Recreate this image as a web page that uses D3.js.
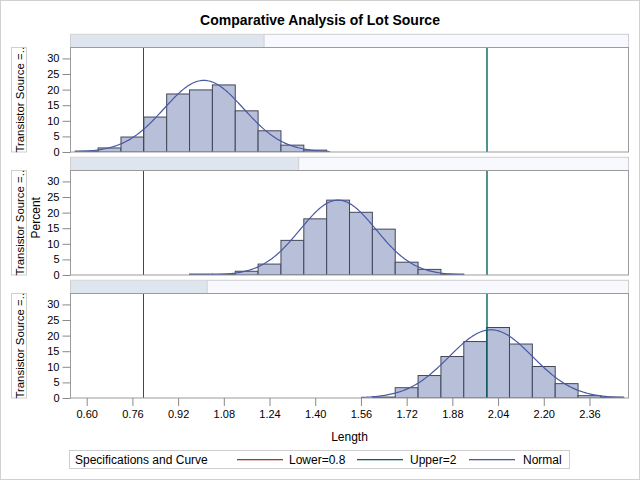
<!DOCTYPE html>
<html><head><meta charset="utf-8">
<script src="https://cdn.jsdelivr.net/npm/d3@7"></script>
<style>body{margin:0;background:#fff}svg{display:block;font-family:"Liberation Sans",Arial,sans-serif}</style>
</head><body><svg id="c" width="640" height="480"></svg>
<script>
// ---- data ----
const title = "Comparative Analysis of Lot Source";
const rowLabel = "Transistor Source =..";
const binWidth = 0.08;
const binStart = [0.56, 0.96, 1.60];
const lot1 = [0.3, 1.3, 4.8, 11.2, 18.6, 19.9, 21.5, 13.2, 6.8, 2.2, 0.6];
const lot2 = [0.3, 0.3, 1.2, 3.5, 11.1, 18.0, 24.0, 20.1, 14.7, 4.1, 1.8, 0.3];
const lot3 = [0.3, 3.3, 7.2, 13.3, 18.1, 22.6, 17.3, 10.1, 4.6, 0.75, 0.3];
const normMean = [1.01, 1.48, 2.015];
const normSd = [0.139, 0.133, 0.146];
const curveFrom = [0.56, 0.96, 1.56];
const curveTo = [1.452, 1.92, 2.48];
const stripShade = [0.346, 0.408, 0.244];
const lowerSpec = 0.8, upperSpec = 2;
const xTicks = [0.60, 0.76, 0.92, 1.08, 1.24, 1.40, 1.56, 1.72, 1.88, 2.04, 2.20, 2.36];
const yTicks = [0, 5, 10, 15, 20, 25, 30];
const legendItems = ["Lower=0.8", "Upper=2", "Normal"];
const lots = [lot1, lot2, lot3];

// ---- layout ----
const svg = d3.select("#c");
const L = 70.5, R = 628.5;
const x = d3.scaleLinear().domain([0.5433, 2.4966]).range([L, R]);
const plotTop = [47.5, 170.5, 293.5], plotH = 104.5, stripH = 13.2;
const cBar = "#b8bfd9", cBarLine = "#41465a", cCurve = "#4a5aa3",
      cLower = "#a23a2e", cUpper = "#01665e", cFrame = "#9b9b9b";

svg.append("rect").attr("x",0.5).attr("y",0.5).attr("width",639).attr("height",479)
  .attr("fill","#fff").attr("stroke","#d0d0d0");

svg.append("text").attr("x",320).attr("y",25).attr("text-anchor","middle")
  .attr("font-size",14).attr("font-weight","bold").attr("fill","#000").text(title);

lots.forEach((vals, p) => {
  const top = plotTop[p], bot = top + plotH;
  const y = d3.scaleLinear().domain([0, 33.5]).range([bot, top]);
  const g = svg.append("g");
  // strip
  const sTop = top - stripH;
  g.append("rect").attr("x",L).attr("y",sTop).attr("width",R-L).attr("height",stripH)
    .attr("fill","#f8f9fe").attr("stroke","#cfcfcf");
  g.append("rect").attr("x",L+0.5).attr("y",sTop+0.5).attr("width",(R-L)*stripShade[p]).attr("height",stripH-1)
    .attr("fill","#dfe5ef");
  g.append("line").attr("x1",L+(R-L)*stripShade[p]+0.5).attr("x2",L+(R-L)*stripShade[p]+0.5)
    .attr("y1",sTop).attr("y2",top).attr("stroke","#cfcfcf");
  // clip
  const cid = "clip"+p;
  svg.append("clipPath").attr("id",cid).append("rect").attr("x",L).attr("y",top).attr("width",R-L).attr("height",plotH);
  const pg = g.append("g").attr("clip-path","url(#"+cid+")");
  // bars
  pg.selectAll("rect.bar").data(vals).join("rect").attr("class","bar")
    .attr("x", (d,i) => x(binStart[p] + i*binWidth))
    .attr("width", (d,i) => x(binStart[p] + (i+1)*binWidth) - x(binStart[p] + i*binWidth))
    .attr("y", d => y(d)).attr("height", d => bot - y(d))
    .attr("fill", cBar).attr("stroke", cBarLine).attr("stroke-width",1);
  // normal curve
  const mu = normMean[p], sd = normSd[p];
  const pts = d3.range(curveFrom[p], curveTo[p] + 1e-9, 0.004).map(v =>
    [v, 100*binWidth/(sd*Math.sqrt(2*Math.PI))*Math.exp(-0.5*((v-mu)/sd)**2)]);
  pg.append("path").attr("d", d3.line().x(d=>x(d[0])).y(d=>y(d[1]))(pts))
    .attr("fill","none").attr("stroke",cCurve).attr("stroke-width",1.2);
  // spec lines
  pg.append("line").attr("x1",Math.round(x(lowerSpec))-0.5).attr("x2",Math.round(x(lowerSpec))-0.5)
    .attr("y1",top).attr("y2",bot).attr("stroke","#8e2b20").attr("stroke-width",1);
  pg.append("line").attr("x1",Math.round(x(upperSpec))).attr("x2",Math.round(x(upperSpec)))
    .attr("y1",top).attr("y2",bot).attr("stroke",cUpper).attr("stroke-width",1.4);
  // frame
  g.append("rect").attr("x",L).attr("y",top).attr("width",R-L).attr("height",plotH)
    .attr("fill","none").attr("stroke",cFrame);
  // y axis
  const ya = g.append("g").attr("transform",`translate(${L},0)`)
    .call(d3.axisLeft(y).tickValues(yTicks).tickSize(8).tickPadding(3).tickFormat(d3.format("d")));
  ya.select(".domain").remove();
  ya.selectAll("line").attr("stroke","#8a8a8a");
  ya.selectAll("text").attr("font-size",11).attr("fill","#000").attr("font-family","Liberation Sans, Arial, sans-serif");
  // row label box
  g.append("rect").attr("x",11.5).attr("y",top).attr("width",15).attr("height",plotH)
    .attr("fill","#fff").attr("stroke","#cfcfcf");
  g.append("text").attr("transform",`translate(23.5,${top+plotH/2}) rotate(-90)`)
    .attr("text-anchor","middle").attr("font-size",11.4).attr("fill","#000").text(rowLabel);
  if (p === 1) {
    g.append("text").attr("transform",`translate(40,${top+plotH/2-5}) rotate(-90)`)
      .attr("text-anchor","middle").attr("font-size",12).attr("fill","#000").text("Percent");
  }
  if (p === 2) {
    const xa = g.append("g").attr("transform",`translate(0,${bot})`)
      .call(d3.axisBottom(x).tickValues(xTicks).tickSize(8).tickPadding(4).tickFormat(d3.format(".2f")));
    xa.select(".domain").remove();
    xa.selectAll("line").attr("stroke","#8a8a8a");
    xa.selectAll("text").attr("font-size",11).attr("fill","#000").attr("font-family","Liberation Sans, Arial, sans-serif");
  }
});

svg.append("text").attr("x",(L+R)/2).attr("y",441).attr("text-anchor","middle")
  .attr("font-size",12).attr("fill","#000").text("Length");

// legend
const lg = svg.append("g");
lg.append("rect").attr("x",69.5).attr("y",450.5).attr("width",500).attr("height",18)
  .attr("fill","#fff").attr("stroke","#cfcfcf");
lg.append("text").attr("x",75).attr("y",464).attr("font-size",12).attr("fill","#000").text("Specifications and Curve");
const legCols = [cLower, cUpper, cCurve];
const legLineX = [237, 357, 469];
const legTextX = [289, 410, 523];
legendItems.forEach((t,i) => {
  lg.append("rect").attr("x",legLineX[i]).attr("width",46).attr("y",459).attr("height",1.3)
    .attr("fill",legCols[i]);
  lg.append("text").attr("x",legTextX[i]).attr("y",464).attr("font-size",12).attr("fill","#000").text(t);
});
</script></body></html>
